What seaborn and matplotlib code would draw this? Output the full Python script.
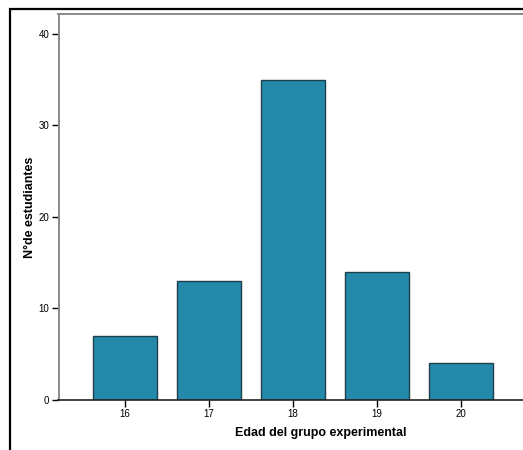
import matplotlib
matplotlib.use('Agg')
import matplotlib.pyplot as plt
import seaborn as sns
import pandas as pd
from matplotlib.patches import Rectangle

# datos
edades = ['16', '17', '18', '19', '20']
estudiantes = [7, 13, 35, 14, 4]
y_ticks = [0, 10, 20, 30, 40]

df = pd.DataFrame({'Edad': edades, 'Estudiantes': estudiantes})

sns.set_style('white')
plt.rcParams['font.family'] = ['Liberation Sans', 'DejaVu Sans']
plt.rcParams['text.color'] = 'black'
plt.rcParams['axes.labelcolor'] = 'black'
plt.rcParams['xtick.color'] = 'black'
plt.rcParams['ytick.color'] = 'black'

W, H = 523, 450
fig = plt.figure(figsize=(W / 100, H / 100), dpi=100)

# marco exterior (cortado a la derecha y abajo)
fig.patches.append(Rectangle((9.5 / W, -0.1), 1.2, (H - 9.5) / H + 0.1,
                             transform=fig.transFigure, fill=False,
                             edgecolor='black', linewidth=1.6))

ax = fig.add_axes([58.5 / W, 50 / H, (527 - 58.5) / W, (400 - 14.5) / H])
sns.barplot(data=df, x='Edad', y='Estudiantes', color='#2489AA', saturation=1,
            width=0.76, edgecolor='#1f3f4c', linewidth=1.0, ax=ax)

ax.set_xlim(-0.786, 4.786)
ax.set_ylim(0, 42.1)
ax.set_yticks(y_ticks)
ax.tick_params(axis='both', labelsize=7, length=5, width=1, color='black', pad=1.5,
               left=True, bottom=True)

for s in ['top', 'left']:
    ax.spines[s].set_color('#8a8a8a')
    ax.spines[s].set_linewidth(1.4)
ax.spines['right'].set_visible(False)
ax.spines['bottom'].set_color('#222222')
ax.spines['bottom'].set_linewidth(1.2)

ax.set_xlabel('Edad del grupo experimental', fontsize=9, fontweight='bold')
ax.set_ylabel('N°de estudiantes', fontsize=9, fontweight='bold')
ax.xaxis.set_label_coords(0.56, -0.069)
ax.yaxis.set_label_coords(-0.048, 0.5)

fig.savefig('out.png', dpi=100)
